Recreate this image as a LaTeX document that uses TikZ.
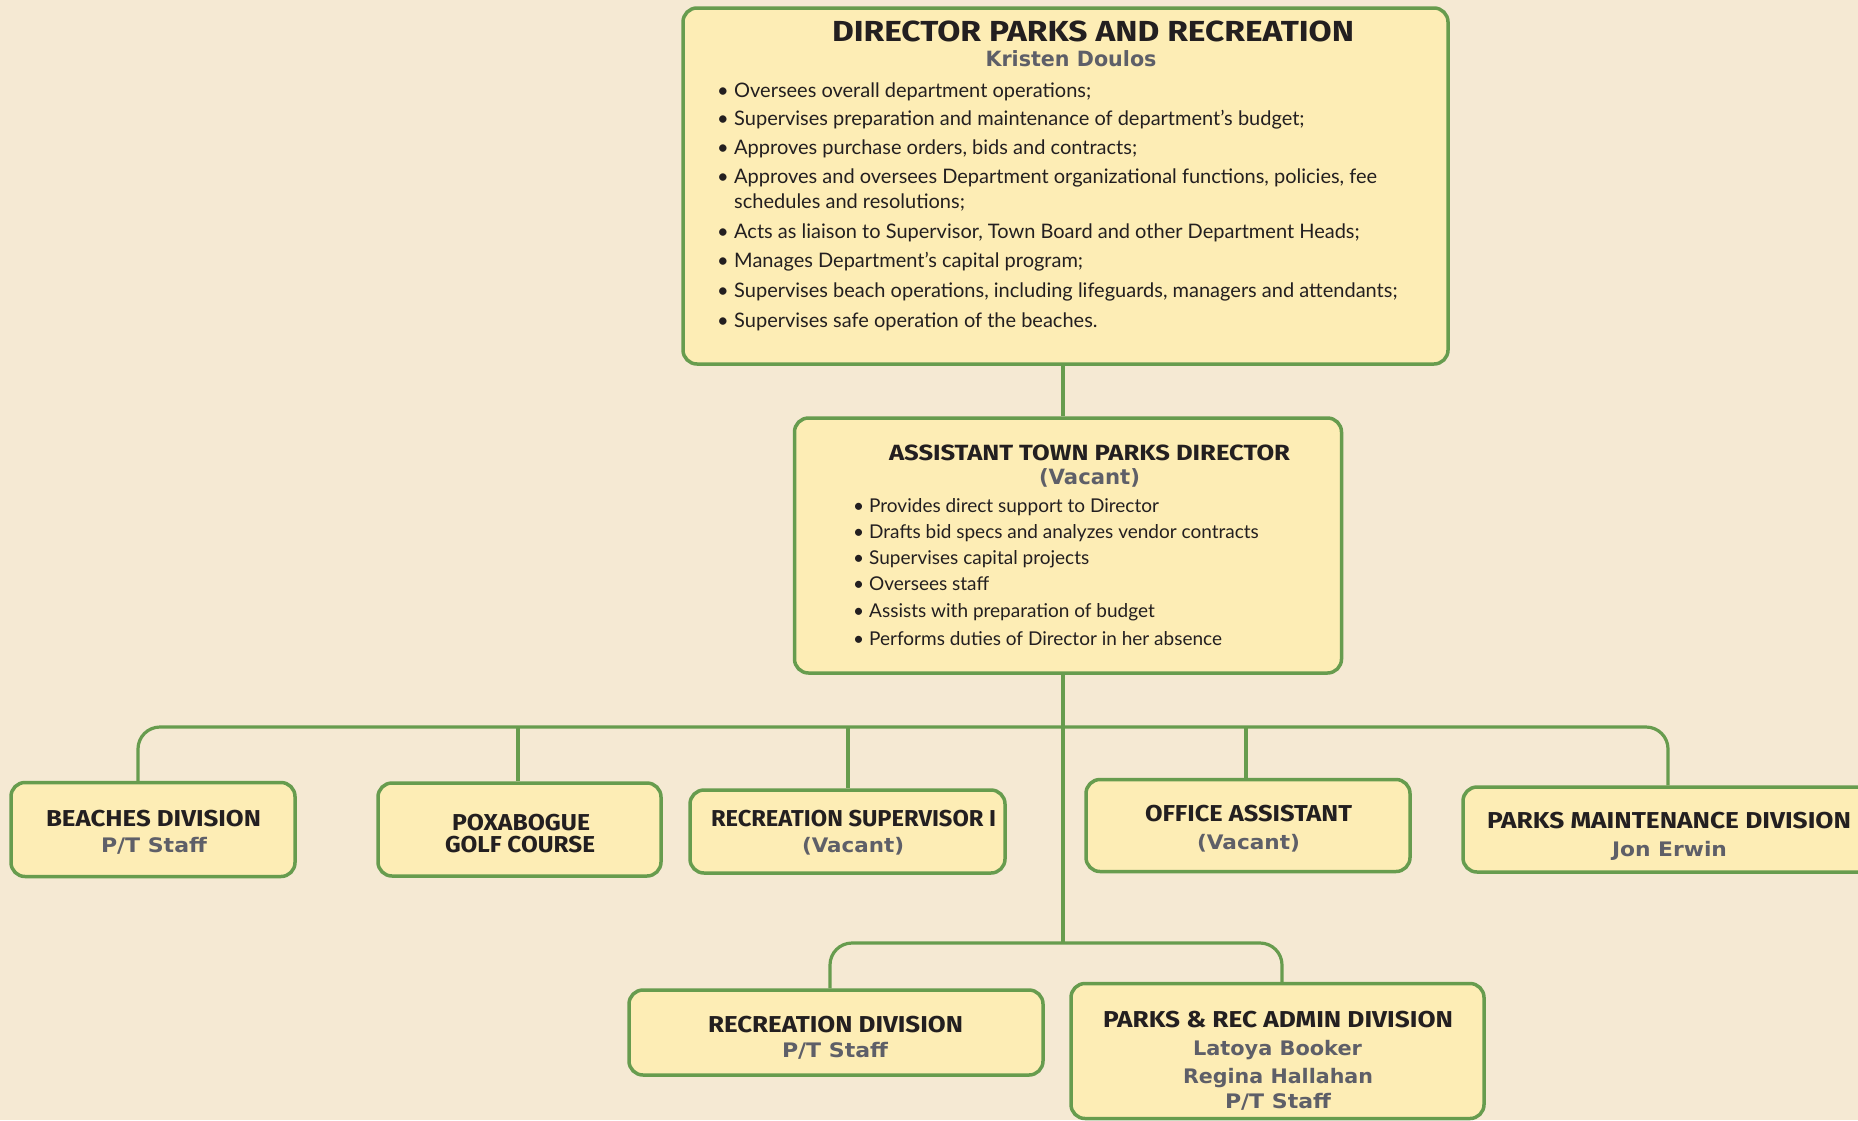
\documentclass[tikz,border=0pt]{standalone}
\usepackage{fontspec}
\usepackage{graphicx}
\newfontfamily\ttlfont{Fira Sans}
\newfontfamily\nmfont{DejaVu Sans}
\newfontfamily\blfont{Lato}
\definecolor{bgc}{RGB}{245,233,211}
\definecolor{boxc}{RGB}{253,237,181}
\definecolor{grn}{RGB}{103,156,78}
\definecolor{ink}{RGB}{35,31,32}
\definecolor{gry}{RGB}{94,95,104}
\newlength\fitlen
\newcommand\fitw[2]{\settowidth\fitlen{#2}\pgfmathsetmacro\fitfac{#1/\fitlen}\scalebox{\fitfac}[1]{#2}}
\newcommand\bdot{\makebox[17pt][l]{•}}
\begin{document}
\begin{tikzpicture}[x=1pt,y=-1pt,
  box/.style={draw=grn, fill=boxc, line width=3.5pt, rounded corners=14pt, inner sep=0pt},
  conn/.style={draw=grn, line width=3.2pt},
  ttl/.style={font=\ttlfont\bfseries\fontsize{#1}{#1}\selectfont, text=ink, inner sep=0pt, anchor=base},
  nm/.style={font=\nmfont\bfseries\fontsize{#1}{#1}\selectfont, text=gry, inner sep=0pt, anchor=base},
  bl/.style={font=\blfont\fontsize{#1}{#1}\selectfont, text=ink, inner sep=0pt, anchor=base west}]
\useasboundingbox (0,0) rectangle (1858,1120);
\fill[bgc] (0,0) rectangle (1858,1120);

% connector coordinates
\coordinate (b1) at (138,727);
\coordinate (b2) at (518,727);
\coordinate (b3) at (848,727);
\coordinate (b4) at (1246,727);
\coordinate (b5) at (1668,727);
\coordinate (t1) at (1063,727);
\coordinate (bb) at (1063,943);
\coordinate (bl) at (830,943);
\coordinate (br) at (1282,943);

% boxes
\node[box, minimum width=765, minimum height=356] (dir) at (1065.5,186) {};
\node[box, minimum width=547, minimum height=255] (asst) at (1068,545.5) {};
\node[box, minimum width=284, minimum height=94] (beach) at (153,829.5) {};
\node[box, minimum width=283, minimum height=93] (poxa) at (519.5,829.5) {};
\node[box, minimum width=315, minimum height=83] (recsup) at (847.5,831.5) {};
\node[box, minimum width=324, minimum height=92] (office) at (1248,825.5) {};
\node[box, minimum width=410, minimum height=85] (pmaint) at (1668,829.5) {};
\node[box, minimum width=414, minimum height=85] (recdiv) at (836,1032.5) {};
\node[box, minimum width=413, minimum height=135] (admin) at (1277.5,1051) {};

% connectors
\draw[conn] (dir.south -| t1) -- (asst.north -| t1);
\draw[conn] (asst.south -| t1) -- (bb);
\draw[conn, rounded corners=22pt] (beach.north -| b1) -- (b1) -- (b5) -- (pmaint.north -| b5);
\draw[conn] (b2) -- (poxa.north -| b2);
\draw[conn] (b3) -- (recsup.north -| b3);
\draw[conn] (b4) -- (office.north -| b4);
\draw[conn, rounded corners=22pt] (recdiv.north -| bl) -- (bl) -- (br) -- (admin.north -| br);

% director text
\node[ttl=29] (dirt) at (1093,41) {\fitw{522}{DIRECTOR PARKS AND RECREATION}};
\node[nm=21] (dirn) at (1071,66) {\fitw{171}{Kristen Doulos}};
\node[bl=20] (d1) at (717,97) {\bdot Oversees overall department operations;};
\node[bl=20] (d2) at (717,125) {\bdot Supervises preparation and maintenance of department’s budget;};
\node[bl=20] (d3) at (717,154) {\bdot Approves purchase orders, bids and contracts;};
\node[bl=20] (d4) at (717,183) {\bdot Approves and oversees Department organizational functions, policies, fee};
\node[bl=20] (d4b) at (734,208) {schedules and resolutions;};
\node[bl=20] (d5) at (717,238) {\bdot Acts as liaison to Supervisor, Town Board and other Department Heads;};
\node[bl=20] (d6) at (717,267) {\bdot Manages Department’s capital program;};
\node[bl=20] (d7) at (717,297) {\bdot Supervises beach operations, including lifeguards, managers and attendants;};
\node[bl=20] (d8) at (717,327) {\bdot Supervises safe operation of the beaches.};

% assistant text
\node[ttl=22] (at) at (1089.5,460) {\fitw{401}{ASSISTANT TOWN PARKS DIRECTOR}};
\node[nm=21] (an) at (1089.5,484) {\fitw{101}{(Vacant)}};
\node[bl=19] (a1) at (853,512) {\makebox[16pt][l]{•}Provides direct support to Director};
\node[bl=19] (a2) at (853,538) {\makebox[16pt][l]{•}Drafts bid specs and analyzes vendor contracts};
\node[bl=19] (a3) at (853,564) {\makebox[16pt][l]{•}Supervises capital projects};
\node[bl=19] (a4) at (853,590) {\makebox[16pt][l]{•}Oversees staff};
\node[bl=19] (a5) at (853,617) {\makebox[16pt][l]{•}Assists with preparation of budget};
\node[bl=19] (a6) at (853,645) {\makebox[16pt][l]{•}Performs duties of Director in her absence};

% row texts
\node[ttl=23] (beacht) at (153.5,826) {\fitw{215}{BEACHES DIVISION}};
\node[nm=20] (beachn) at (154,852) {\fitw{106}{P/T Staff}};
\node[ttl=23] (poxat) at (521,830) {\fitw{138}{POXABOGUE}};
\node[ttl=23] (poxat2) at (520,852) {\fitw{150}{GOLF COURSE}};
\node[ttl=23] (recsupt) at (853.5,826) {\fitw{285}{RECREATION SUPERVISOR I}};
\node[nm=20] (recsupn) at (853,852) {\fitw{102}{(Vacant)}};
\node[ttl=23] (officet) at (1248.5,821) {\fitw{207}{OFFICE ASSISTANT}};
\node[nm=20] (officen) at (1248.5,849) {\fitw{103}{(Vacant)}};
\node[ttl=23] (pmaintt) at (1669,828) {\fitw{364}{PARKS MAINTENANCE DIVISION}};
\node[nm=20] (pmaintn) at (1669.5,856) {\fitw{115}{Jon Erwin}};
\node[ttl=23] (recdivt) at (835.5,1032) {\fitw{255}{RECREATION DIVISION}};
\node[nm=20] (recdivn) at (835,1057) {\fitw{106}{P/T Staff}};
\node[ttl=23] (admint) at (1278,1027) {\fitw{350}{PARKS \& REC ADMIN DIVISION}};
\node[nm=20] (admin1) at (1277.5,1055) {\fitw{169}{Latoya Booker}};
\node[nm=20] (admin2) at (1278,1083) {\fitw{190}{Regina Hallahan}};
\node[nm=20] (admin3) at (1278,1108) {\fitw{106}{P/T Staff}};
\end{tikzpicture}
\end{document}
